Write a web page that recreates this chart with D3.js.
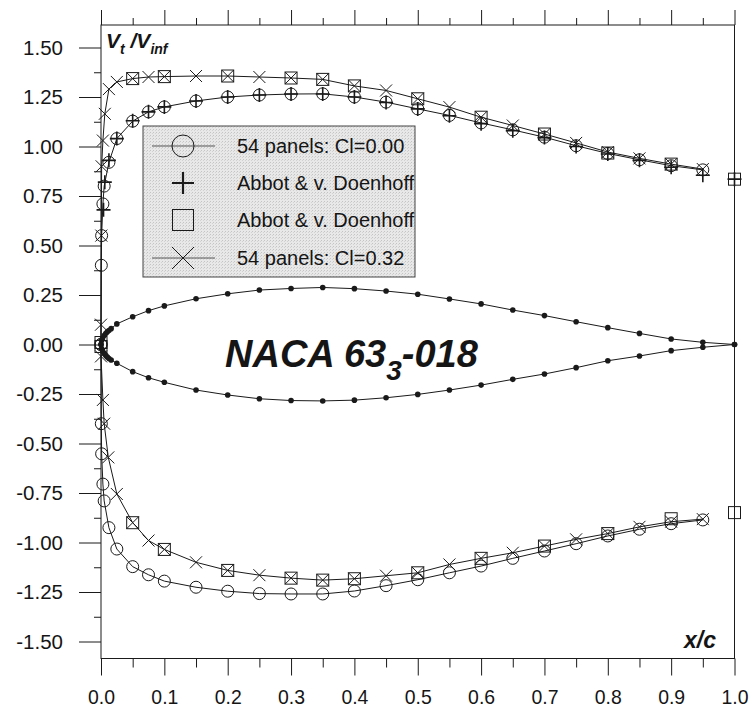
<!DOCTYPE html>
<html>
<head>
<meta charset="utf-8">
<script src="https://cdn.jsdelivr.net/npm/d3@7"></script>
<style>
body { margin: 0; background: #fff; }
svg text { font-family: Arial, "Liberation Sans", sans-serif; fill: #151515; }
</style>
</head>
<body>
<div id="chart"></div>
<script>
// ---- data ----
// 54 panels, Cl = 0.00 (circles)
let cl0Upper = [[0,0],[0.0005,0.40],[0.001,0.55],[0.003,0.71],[0.005,0.80],[0.0125,0.92],[0.025,1.04],[0.05,1.128],[0.075,1.175],[0.1,1.20],[0.15,1.23],[0.2,1.25],[0.25,1.26],[0.3,1.265],[0.35,1.266],[0.4,1.25],[0.45,1.224],[0.5,1.19],[0.55,1.157],[0.6,1.119],[0.65,1.084],[0.7,1.047],[0.75,1.004],[0.8,0.965],[0.85,0.933],[0.9,0.903],[0.95,0.882]];
let cl0Lower = [[0,0],[0.0005,-0.40],[0.001,-0.552],[0.003,-0.705],[0.005,-0.79],[0.0125,-0.925],[0.025,-1.033],[0.05,-1.122],[0.075,-1.163],[0.1,-1.195],[0.15,-1.226],[0.2,-1.246],[0.25,-1.258],[0.3,-1.26],[0.35,-1.26],[0.4,-1.245],[0.45,-1.218],[0.5,-1.188],[0.55,-1.153],[0.6,-1.119],[0.65,-1.08],[0.7,-1.043],[0.75,-1.006],[0.8,-0.967],[0.85,-0.933],[0.9,-0.905],[0.95,-0.886]];
// 54 panels, Cl = 0.32 (crosses)
let cl032Upper = [[0,0.10],[0.0005,0.55],[0.001,0.90],[0.003,1.03],[0.006,1.165],[0.0125,1.29],[0.025,1.326],[0.05,1.343],[0.075,1.351],[0.1,1.353],[0.15,1.356],[0.2,1.356],[0.25,1.351],[0.3,1.346],[0.35,1.339],[0.4,1.306],[0.45,1.283],[0.5,1.241],[0.55,1.199],[0.6,1.148],[0.65,1.106],[0.7,1.063],[0.75,1.018],[0.8,0.972],[0.85,0.94],[0.9,0.911],[0.95,0.886]];
let cl032Lower = [[0,-0.06],[0.003,-0.28],[0.005,-0.40],[0.0115,-0.57],[0.025,-0.755],[0.05,-0.90],[0.075,-0.99],[0.1,-1.035],[0.15,-1.10],[0.2,-1.141],[0.25,-1.165],[0.3,-1.18],[0.35,-1.19],[0.4,-1.183],[0.45,-1.168],[0.5,-1.153],[0.55,-1.111],[0.6,-1.08],[0.65,-1.052],[0.7,-1.018],[0.75,-0.984],[0.8,-0.955],[0.85,-0.921],[0.9,-0.895],[0.95,-0.882]];
// Abbott & v. Doenhoff (plus)
let abbottPlus = [[0.004,0.68],[0.006,0.82],[0.0125,0.93],[0.025,1.04],[0.05,1.13],[0.075,1.175],[0.1,1.20],[0.15,1.23],[0.2,1.25],[0.25,1.26],[0.3,1.265],[0.35,1.265],[0.4,1.25],[0.45,1.222],[0.5,1.19],[0.55,1.155],[0.6,1.115],[0.65,1.08],[0.7,1.045],[0.75,1.0],[0.8,0.962],[0.85,0.93],[0.9,0.895],[0.95,0.855],[1.0,0.835]];
// Abbott & v. Doenhoff (squares)
let abbottSquareUpper = [[0,0.01],[0.05,1.343],[0.1,1.353],[0.2,1.356],[0.3,1.346],[0.35,1.339],[0.4,1.306],[0.5,1.241],[0.6,1.148],[0.7,1.063],[0.8,0.967],[0.9,0.911],[1.0,0.835]];
let abbottSquareLower = [[0,-0.01],[0.05,-0.90],[0.1,-1.035],[0.2,-1.141],[0.3,-1.18],[0.35,-1.19],[0.4,-1.183],[0.5,-1.153],[0.6,-1.08],[0.7,-1.018],[0.8,-0.955],[0.9,-0.88],[1.0,-0.849]];
// airfoil contour, drawn in the chart's own y units
let airfoilX     = [0, 0.001, 0.0025, 0.005, 0.0075, 0.01, 0.0125, 0.016, 0.025, 0.05, 0.075, 0.1, 0.15, 0.2, 0.25, 0.3, 0.35, 0.4, 0.45, 0.5, 0.55, 0.6, 0.65, 0.7, 0.75, 0.8, 0.85, 0.9, 0.95, 1.0];
let airfoilUpper = [0, 0.020, 0.033, 0.045, 0.055, 0.064, 0.071, 0.080, 0.104, 0.140, 0.171, 0.195, 0.231, 0.256, 0.275, 0.283, 0.288, 0.282, 0.270, 0.254, 0.230, 0.205, 0.174, 0.146, 0.115, 0.085, 0.056, 0.028, 0.011, 0];
let airfoilLower = [0, -0.020, -0.033, -0.045, -0.055, -0.064, -0.071, -0.078, -0.095, -0.137, -0.168, -0.191, -0.230, -0.255, -0.274, -0.283, -0.285, -0.281, -0.269, -0.252, -0.230, -0.205, -0.176, -0.149, -0.117, -0.082, -0.058, -0.031, -0.014, 0];

let xTicks = [0, 0.1, 0.2, 0.3, 0.4, 0.5, 0.6, 0.7, 0.8, 0.9, 1.0];
let yTicks = [-1.5, -1.25, -1.0, -0.75, -0.5, -0.25, 0, 0.25, 0.5, 0.75, 1.0, 1.25, 1.5];
let legendLabels = ["54 panels: Cl=0.00", "Abbot & v. Doenhoff", "Abbot & v. Doenhoff", "54 panels: Cl=0.32"];

// ---- layout ----
let W = 752, H = 717;
let frame = {left: 101, right: 734.5, top: 25, bottom: 658.5};

let svg = d3.select("#chart").append("svg")
    .attr("width", W)
    .attr("height", H);

let xScale = d3.scaleLinear().domain([0, 1]).range([frame.left, frame.right]);
let yScale = d3.scaleLinear().domain([-1.5, 1.5]).range([641.5, 47.5]);

let ink = "#1a1a1a";

// minor tick values
let xMinor = xTicks.slice(0, -1).map(function(d){ return d + 0.05; });
let yMinor = yTicks.slice(0, -1).map(function(d){ return d + 0.125; });

function cleanAxis(g){
    g.select(".domain").remove();
    g.selectAll(".tick line").attr("stroke", ink).attr("stroke-width", 1);
}

// bottom axis with labels
svg.append("g")
    .attr("transform", "translate(0," + frame.bottom + ")")
    .call(d3.axisBottom(xScale).tickValues(xTicks).tickSize(17).tickPadding(14)
        .tickFormat(function(d){ return d.toFixed(1); }))
    .call(cleanAxis)
    .call(function(g){
        g.selectAll(".tick text")
            .attr("font-size", 21)
            .attr("font-family", "Arial, 'Liberation Sans', sans-serif")
            .attr("fill", ink)
            .attr("textLength", 27)
            .attr("lengthAdjust", "spacingAndGlyphs");
    });
svg.append("g")
    .attr("transform", "translate(0," + frame.bottom + ")")
    .call(d3.axisBottom(xScale).tickValues(xMinor).tickSize(9).tickFormat(""))
    .call(cleanAxis);

// top axis, ticks only
svg.append("g")
    .attr("transform", "translate(0," + frame.top + ")")
    .call(d3.axisTop(xScale).tickValues(xTicks).tickSize(15).tickFormat(""))
    .call(cleanAxis);
svg.append("g")
    .attr("transform", "translate(0," + frame.top + ")")
    .call(d3.axisTop(xScale).tickValues(xMinor).tickSize(7).tickFormat(""))
    .call(cleanAxis);

// left axis
svg.append("g")
    .attr("transform", "translate(" + frame.left + ",0)")
    .call(d3.axisLeft(yScale).tickValues(yTicks).tickSize(22).tickPadding(16)
        .tickFormat(function(d){ return d.toFixed(2); }))
    .call(cleanAxis)
    .call(function(g){
        g.selectAll(".tick text")
            .attr("font-size", 20.5)
            .attr("font-family", "Arial, 'Liberation Sans', sans-serif")
            .attr("fill", ink);
    });
svg.append("g")
    .attr("transform", "translate(" + frame.left + ",0)")
    .call(d3.axisLeft(yScale).tickValues(yMinor).tickSize(7).tickFormat(""))
    .call(cleanAxis);

// frame
svg.append("rect")
    .attr("x", frame.left)
    .attr("y", frame.top)
    .attr("width", frame.right - frame.left)
    .attr("height", frame.bottom - frame.top)
    .attr("fill", "none")
    .attr("stroke", ink)
    .attr("stroke-width", 1);

// ---- axis titles ----
let vLabel = svg.append("text")
    .attr("x", 106)
    .attr("y", 48)
    .attr("font-size", 21)
    .attr("font-weight", "bold")
    .attr("font-style", "italic")
    .attr("xml:space", "preserve");
vLabel.append("tspan").text("V");
vLabel.append("tspan").attr("font-size", 14).attr("dy", 6).text("t");
vLabel.append("tspan").attr("dy", -6).text(" /V");
vLabel.append("tspan").attr("font-size", 14).attr("dy", 6).text("inf");

svg.append("text")
    .attr("x", 716)
    .attr("y", 648)
    .attr("text-anchor", "end")
    .attr("font-size", 23)
    .attr("font-weight", "bold")
    .attr("font-style", "italic")
    .text("x/c");

// ---- airfoil ----
let line = d3.line()
    .x(function(d){ return xScale(d[0]); })
    .y(function(d){ return yScale(d[1]); });

let airfoil = svg.append("g").attr("class", "airfoil");
[airfoilUpper, airfoilLower].forEach(function(ys){
    let pts = airfoilX.map(function(x, i){ return [x, ys[i]]; });
    airfoil.append("path")
        .datum(pts)
        .attr("d", line)
        .attr("fill", "none")
        .attr("stroke", ink)
        .attr("stroke-width", 1);
    airfoil.selectAll(null)
        .data(pts)
        .enter().append("circle")
        .attr("cx", function(d){ return xScale(d[0]); })
        .attr("cy", function(d){ return yScale(d[1]); })
        .attr("r", 2.8)
        .attr("fill", ink);
});

// title inside the plot
let title = svg.append("text")
    .attr("x", 225)
    .attr("y", 367)
    .attr("font-size", 38)
    .attr("font-weight", "bold")
    .attr("font-style", "italic");
title.append("tspan").text("NACA 63");
title.append("tspan").attr("font-size", 28).attr("dy", 13).text("3");
title.append("tspan").attr("dy", -13).text("-018");

// ---- marker helpers ----
function drawCircle(g, cx, cy, r){
    g.append("circle").attr("cx", cx).attr("cy", cy).attr("r", r)
        .attr("fill", "none").attr("stroke", ink).attr("stroke-width", 1);
}
function drawSquare(g, cx, cy, h){
    g.append("rect").attr("x", cx - h).attr("y", cy - h).attr("width", 2 * h).attr("height", 2 * h)
        .attr("fill", "none").attr("stroke", ink).attr("stroke-width", 1);
}
function drawPlus(g, cx, cy, h, w){
    g.append("path")
        .attr("d", "M" + (cx - h) + "," + cy + "H" + (cx + h) + "M" + cx + "," + (cy - h) + "V" + (cy + h))
        .attr("stroke", ink).attr("stroke-width", w);
}
function drawX(g, cx, cy, h){
    g.append("path")
        .attr("d", "M" + (cx - h) + "," + (cy - h) + "L" + (cx + h) + "," + (cy + h) +
                   "M" + (cx - h) + "," + (cy + h) + "L" + (cx + h) + "," + (cy - h))
        .attr("stroke", ink).attr("stroke-width", 1).attr("fill", "none");
}

// ---- series ----
let series = svg.append("g").attr("class", "series");

function drawLine(upper, lower){
    let pts = upper.slice().reverse().concat(lower);
    series.append("path")
        .datum(pts)
        .attr("d", line)
        .attr("fill", "none")
        .attr("stroke", ink)
        .attr("stroke-width", 1);
}
drawLine(cl0Upper, cl0Lower);
drawLine(cl032Upper, cl032Lower);

cl0Upper.concat(cl0Lower).forEach(function(d){
    drawCircle(series, xScale(d[0]), yScale(d[1]), 6);
});
abbottPlus.forEach(function(d){
    drawPlus(series, xScale(d[0]), yScale(d[1]), 7, 1.6);
});
abbottSquareUpper.concat(abbottSquareLower).forEach(function(d){
    drawSquare(series, xScale(d[0]), yScale(d[1]), 6);
});
cl032Upper.concat(cl032Lower).forEach(function(d){
    drawX(series, xScale(d[0]), yScale(d[1]), 6);
});

// ---- legend ----
let defs = svg.append("defs");
let pat = defs.append("pattern")
    .attr("id", "stipple")
    .attr("width", 3).attr("height", 3)
    .attr("patternUnits", "userSpaceOnUse");
pat.append("rect").attr("width", 3).attr("height", 3).attr("fill", "#e8e8e8");
pat.append("rect").attr("x", 0).attr("y", 0).attr("width", 1).attr("height", 1).attr("fill", "#c4c4c4");
pat.append("rect").attr("x", 2).attr("y", 1).attr("width", 1).attr("height", 1).attr("fill", "#d2d2d2");

let legend = svg.append("g").attr("class", "legend");
legend.append("rect")
    .attr("x", 143).attr("y", 126)
    .attr("width", 272).attr("height", 151)
    .attr("fill", "url(#stipple)")
    .attr("stroke", "#444")
    .attr("stroke-width", 1);

let rowY = [146, 183, 220, 258];
let symX = 183;
legend.append("line").attr("x1", 152).attr("x2", 215).attr("y1", rowY[0]).attr("y2", rowY[0])
    .attr("stroke", "#555").attr("stroke-width", 1);
drawCircle(legend, symX, rowY[0], 11);
drawPlus(legend, symX, rowY[1], 11, 2.2);
drawSquare(legend, symX, rowY[2], 10.5);
legend.append("line").attr("x1", 152).attr("x2", 215).attr("y1", rowY[3]).attr("y2", rowY[3])
    .attr("stroke", "#555").attr("stroke-width", 1);
drawX(legend, symX, rowY[3], 11);

legend.selectAll(".legend-label")
    .data(legendLabels)
    .enter().append("text")
    .attr("class", "legend-label")
    .attr("x", 237)
    .attr("y", function(d, i){ return rowY[i] + 7; })
    .attr("font-size", 20)
    .text(function(d){ return d; });
</script>
</body>
</html>
